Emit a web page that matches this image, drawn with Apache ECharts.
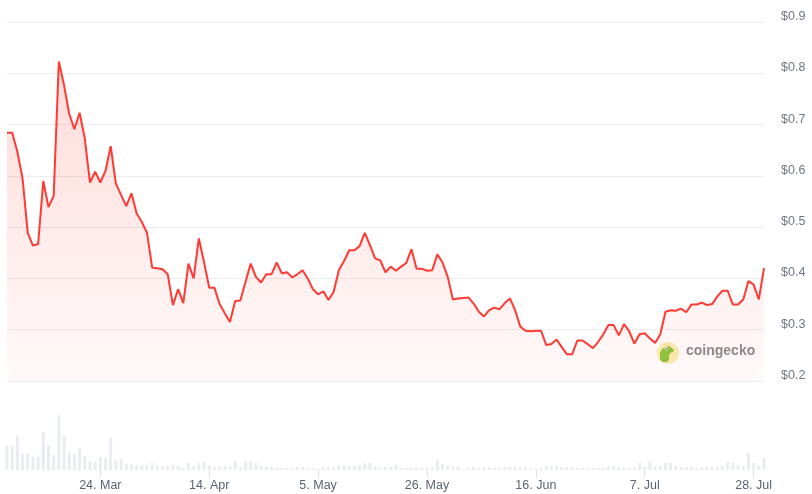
<!DOCTYPE html>
<html>
<head>
<meta charset="utf-8">
<script src="https://cdn.jsdelivr.net/npm/echarts@6/dist/echarts.min.js"></script>
<style>
  html, body { margin: 0; padding: 0; background: #fff; }
  #chart { width: 812px; height: 494px; }
</style>
</head>
<body>
<div id="chart"></div>
<script>
// Daily dates from 6 Mar to 30 Jul
const startDate = [2024, 2, 6];
const dayCount = 147;
const monthNames = ['Jan','Feb','Mar','Apr','May','Jun','Jul','Aug','Sep','Oct','Nov','Dec'];

// Price in USD
const price = [
  0.684, 0.684, 0.647, 0.595, 0.489, 0.464, 0.467, 0.590, 0.539, 0.561,
  0.823, 0.777, 0.721, 0.691, 0.723, 0.673, 0.587, 0.608, 0.587, 0.610,
  0.658, 0.585, 0.563, 0.541, 0.566, 0.527, 0.510, 0.489, 0.421, 0.420,
  0.418, 0.408, 0.348, 0.379, 0.352, 0.429, 0.400, 0.478, 0.432, 0.382,
  0.382, 0.350, 0.332, 0.315, 0.356, 0.357, 0.393, 0.429, 0.403, 0.392,
  0.408, 0.408, 0.431, 0.410, 0.412, 0.402, 0.408, 0.416, 0.400, 0.379,
  0.369, 0.375, 0.358, 0.374, 0.416, 0.434, 0.455, 0.455, 0.463, 0.489,
  0.465, 0.439, 0.435, 0.412, 0.423, 0.415, 0.423, 0.430, 0.457, 0.419,
  0.419, 0.415, 0.416, 0.447, 0.431, 0.403, 0.359, 0.361, 0.362, 0.363,
  0.351, 0.335, 0.326, 0.338, 0.343, 0.340, 0.352, 0.361, 0.338, 0.306,
  0.298, 0.297, 0.298, 0.298, 0.270, 0.272, 0.281, 0.266, 0.252, 0.252,
  0.279, 0.279, 0.272, 0.264, 0.276, 0.291, 0.309, 0.309, 0.289, 0.311,
  0.297, 0.273, 0.291, 0.293, 0.283, 0.274, 0.291, 0.335, 0.338, 0.337,
  0.341, 0.334, 0.349, 0.349, 0.353, 0.348, 0.350, 0.365, 0.376, 0.376,
  0.349, 0.349, 0.359, 0.395, 0.388, 0.359, 0.420
];

// Trading volume (relative units)
const volume = [
  24, 24, 34, 16, 16, 13, 13, 38, 25, 15,
  55, 34, 18, 16, 22, 14, 9, 8, 13, 12,
  32, 10, 11, 6, 6, 5, 5, 5, 7, 5,
  3, 4, 5, 4, 2, 7, 4, 7, 8, 4,
  3, 3, 4, 3, 9, 3, 9, 9, 7, 4,
  3, 3, 2, 2, 2, 2, 3, 3, 2, 2,
  1, 3, 3, 3, 5, 5, 4, 4, 5, 7,
  7, 4, 2, 3, 3, 5,
  2, 2, 2, 3, 2, 2, 3, 10, 6, 4,
  3, 3, 1, 2, 3, 2, 3, 3, 2, 2,
  3, 3, 3, 3, 3, 2, 1, 2, 4, 3,
  4, 3, 3, 3, 2, 2, 2, 2, 2, 2,
  3, 4, 3, 2, 2, 3, 7, 3, 9, 4,
  4, 7, 7, 4, 3, 3, 3, 2, 3, 3,
  3, 3, 4, 8, 7, 5, 4, 17, 7, 4,
  12
];

// Labels shown on the date axis
const tickLabels = ['24. Mar', '14. Apr', '5. May', '26. May', '16. Jun', '7. Jul', '28. Jul'];
const priceTicks = [0.2, 0.3, 0.4, 0.5, 0.6, 0.7, 0.8, 0.9];

const categories = [];
for (let i = 0; i < dayCount; i++) {
  const d = new Date(Date.UTC(startDate[0], startDate[1], startDate[2] + i));
  categories.push(d.getUTCDate() + '. ' + monthNames[d.getUTCMonth()]);
}

const chart = echarts.init(document.getElementById('chart'), null, { renderer: 'canvas' });
const showTick = (i, v) => tickLabels.indexOf(v) !== -1;
const FONT = '"Liberation Sans", Arial, sans-serif';

chart.setOption({
  animation: false,
  backgroundColor: '#ffffff',
  grid: [
    { left: 7, right: 48, top: 22, bottom: 113, containLabel: false, outerBoundsMode: 'none' },
    { left: 7, right: 48, top: 400, bottom: 24, containLabel: false, outerBoundsMode: 'none' }
  ],
  xAxis: [
    {
      type: 'category', gridIndex: 0, data: categories, boundaryGap: false,
      axisLine: { show: false }, axisTick: { show: false }, axisLabel: { show: false },
      splitLine: { show: false }
    },
    {
      type: 'category', gridIndex: 1, data: categories, boundaryGap: false,
      axisLine: { show: false },
      axisTick: { show: true, interval: showTick, length: 8, lineStyle: { color: '#dde1e6', width: 1 } },
      axisLabel: {
        show: true, interval: showTick, color: '#5b6472', fontSize: 12.5,
        fontFamily: FONT, margin: 9
      },
      splitLine: { show: false }
    }
  ],
  yAxis: [
    {
      type: 'value', gridIndex: 0, position: 'right',
      min: priceTicks[0], max: priceTicks[priceTicks.length - 1], interval: 0.1,
      axisLine: { show: false }, axisTick: { show: false },
      axisLabel: {
        color: '#6e7886', fontSize: 12.5, fontFamily: FONT, align: 'left',
        verticalAlign: 'bottom', lineHeight: 11, margin: 17,
        formatter: v => '$' + v.toFixed(1)
      },
      splitLine: { show: true, lineStyle: { color: '#eaecef', width: 1 } }
    },
    {
      type: 'value', gridIndex: 1, min: 0, max: 70, show: false,
      splitLine: { show: false }
    }
  ],
  graphic: [
    {
      type: 'circle', left: 657, top: 342, silent: true,
      shape: { r: 11 }, style: { fill: '#fbeeb0' }
    },
    {
      type: 'polygon', left: 660, top: 346, silent: true,
      shape: { points: [[0, 14], [0, 7], [2, 3], [5, 1], [9, 0], [12, 2], [14, 4], [13, 6], [10, 7], [9, 10], [9, 14], [7, 16], [3, 16]] },
      style: { fill: '#8cc63f' }
    },
    {
      type: 'circle', left: 664.5, top: 347, silent: true,
      shape: { r: 1.8 }, style: { fill: '#ffffff' }
    },
    {
      type: 'circle', left: 665.5, top: 348, silent: true,
      shape: { r: 0.9 }, style: { fill: '#555555' }
    },
    {
      type: 'text', left: 686, top: 344, silent: true,
      style: { text: 'coingecko', fill: '#8c8c8c', font: 'bold 14px "Liberation Sans", Arial, sans-serif' }
    }
  ],
  series: [
    {
      type: 'line', xAxisIndex: 0, yAxisIndex: 0, data: price,
      symbol: 'none', smooth: false,
      lineStyle: { color: '#ff3a33', width: 2 },
      areaStyle: {
        color: {
          type: 'linear', x: 0, y: 0, x2: 0, y2: 1,
          colorStops: [
            { offset: 0, color: 'rgba(255,58,51,0.26)' },
            { offset: 1, color: 'rgba(255,58,51,0.04)' }
          ]
        }
      },
      z: 3
    },
    {
      type: 'bar', xAxisIndex: 1, yAxisIndex: 1, data: volume,
      barWidth: 3, itemStyle: { color: '#e9ecf0' }, silent: true
    }
  ]
});
</script>
</body>
</html>
